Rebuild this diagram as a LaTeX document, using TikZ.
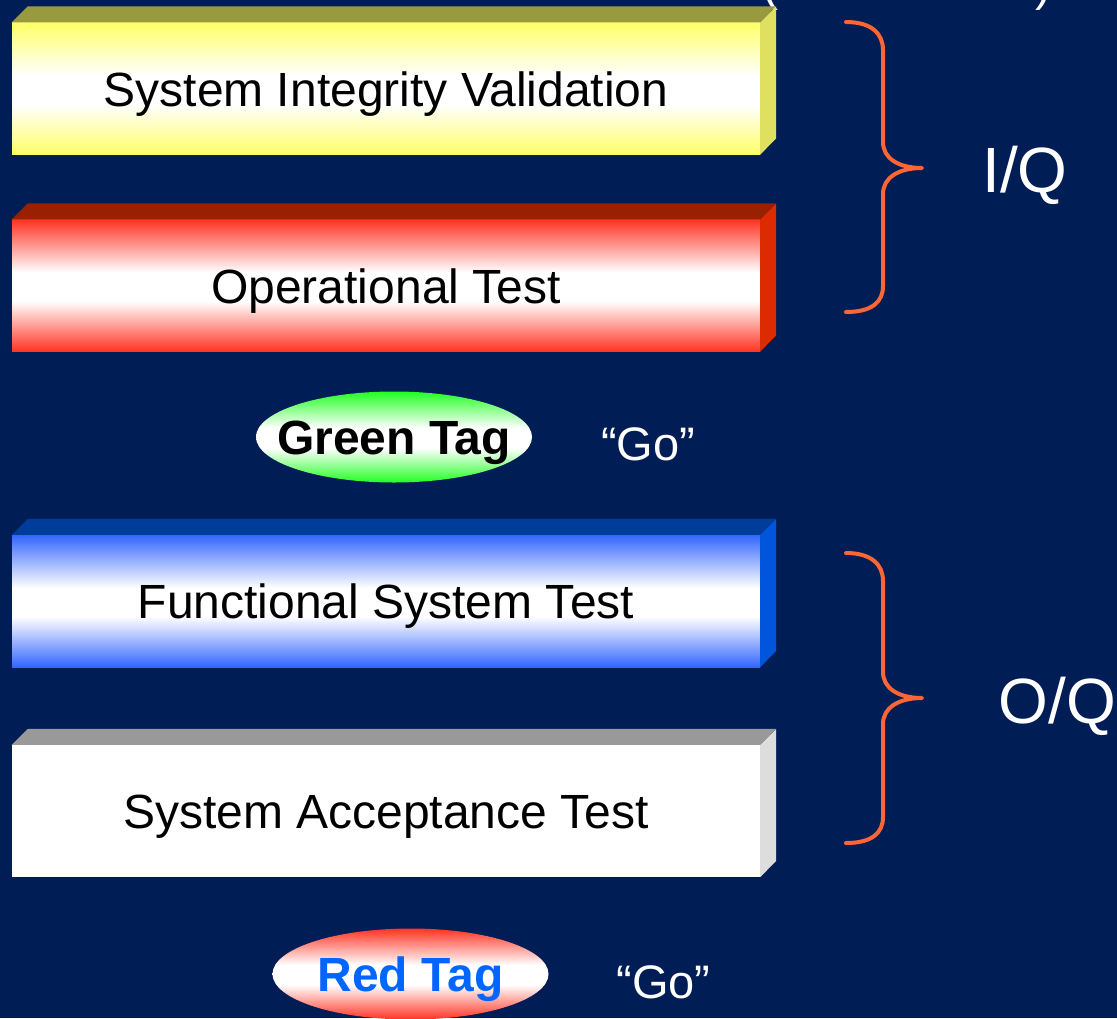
\documentclass[tikz,border=0pt]{standalone}
\usepackage{fontspec}
\setmainfont{Liberation Sans}
\usetikzlibrary{shapes.geometric}
\definecolor{bg}{HTML}{001D56}
\definecolor{yelF}{HTML}{FFFF66}
\definecolor{yelT}{HTML}{999940}
\definecolor{yelS}{HTML}{E0E060}
\definecolor{redF}{HTML}{FF3322}
\definecolor{redT}{HTML}{992000}
\definecolor{redS}{HTML}{DD2B00}
\definecolor{bluF}{HTML}{3366FF}
\definecolor{bluT}{HTML}{003C99}
\definecolor{bluS}{HTML}{0055DD}
\definecolor{gryT}{HTML}{999999}
\definecolor{gryS}{HTML}{DDDDDD}
\definecolor{grnF}{HTML}{22FF22}
\definecolor{braceC}{HTML}{FF6633}
\definecolor{tagBlue}{HTML}{0066FF}
\pgfdeclareverticalshading{yelsh}{100bp}{color(0bp)=(yelF); color(25bp)=(yelF); color(44bp)=(white); color(55bp)=(white); color(75bp)=(yelF); color(100bp)=(yelF)}
\pgfdeclareverticalshading{redsh}{100bp}{color(0bp)=(redF); color(25bp)=(redF); color(44bp)=(white); color(55bp)=(white); color(75bp)=(redF); color(100bp)=(redF)}
\pgfdeclareverticalshading{blush}{100bp}{color(0bp)=(bluF); color(25bp)=(bluF); color(44bp)=(white); color(55bp)=(white); color(75bp)=(bluF); color(100bp)=(bluF)}
\pgfdeclareverticalshading{grnsh}{100bp}{color(0bp)=(grnF); color(25bp)=(grnF); color(44bp)=(white); color(55bp)=(white); color(75bp)=(grnF); color(100bp)=(grnF)}
\begin{document}
\begin{tikzpicture}[x=1pt,y=-1pt,
  slab/.style={rectangle, minimum width=748pt, minimum height=132pt, inner sep=0pt,
    text height=35pt, text depth=0pt, font=\fontsize{48}{48}\selectfont, text=black},
  tag/.style={ellipse, minimum width=276pt, minimum height=91pt, inner sep=0pt,
    text height=35pt, text depth=0pt, font=\fontsize{48}{48}\selectfont\bfseries},
  lbl/.style={text=white, inner sep=0pt, anchor=base, font=\fontsize{47}{47}\selectfont},
  big/.style={text=white, inner sep=0pt, anchor=base, font=\fontsize{64}{64}\selectfont},
  bracestyle/.style={draw=braceC, line width=4pt, line cap=round, line join=round}
]
\useasboundingbox (0,0) rectangle (1117,1018);
\clip (0,0) rectangle (1117,1018);
\fill[bg] (0,0) rectangle (1117,1018);

% top cut-off fragments
\node[text=white, inner sep=0pt, anchor=base west, font=\fontsize{48}{48}\selectfont] (lpar) at (762,0) {(};
\node[text=white, inner sep=0pt, anchor=base west, font=\fontsize{48}{48}\selectfont] (rpar) at (1035,0) {)};

% slab 1
\node[slab, shading=yelsh] (siv) at (386,88.5) {System Integrity Validation};
\fill[yelT] (siv.north west) -- ++(16,-16) -- ++(748,0) -- (siv.north east) -- cycle;
\fill[yelS] (siv.north east) -- ++(16,-16) -- ++(0,132) -- (siv.south east) -- cycle;
% slab 2
\node[slab, shading=redsh] (opt) at (386,285.5) {Operational Test};
\fill[redT] (opt.north west) -- ++(16,-16) -- ++(748,0) -- (opt.north east) -- cycle;
\fill[redS] (opt.north east) -- ++(16,-16) -- ++(0,132) -- (opt.south east) -- cycle;
% slab 3
\node[slab, shading=blush] (fst) at (386,601) {Functional System Test};
\fill[bluT] (fst.north west) -- ++(16,-16) -- ++(748,0) -- (fst.north east) -- cycle;
\fill[bluS] (fst.north east) -- ++(16,-16) -- ++(0,132) -- (fst.south east) -- cycle;
% slab 4
\node[slab, fill=white] (sat) at (386,811) {System Acceptance Test};
\fill[gryT] (sat.north west) -- ++(16,-16) -- ++(748,0) -- (sat.north east) -- cycle;
\fill[gryS] (sat.north east) -- ++(16,-16) -- ++(0,132) -- (sat.south east) -- cycle;

% tags
\node[tag, shading=grnsh, text=black] (gtag) at (394,437) {\makebox[0pt]{Green Tag}};
\node[lbl] (go1) at (648,460) {“Go”};
\node[tag, shading=redsh, text=tagBlue] (rtag) at (410.5,974) {\makebox[0pt]{Red Tag}};
\node[lbl] (go2) at (663.5,998) {“Go”};

% braces
\draw[bracestyle] (846,22) .. controls (872,22) and (883,34) .. (883,50) -- (883,142)
  .. controls (883,158) and (898,168) .. (922,168)
  .. controls (898,168) and (883,178) .. (883,194) -- (883,286)
  .. controls (883,302) and (872,312) .. (846,312);
\draw[bracestyle] (846,553) .. controls (872,553) and (883,565) .. (883,581) -- (883,672)
  .. controls (883,688) and (898,698) .. (922,698)
  .. controls (898,698) and (883,708) .. (883,724) -- (883,817)
  .. controls (883,833) and (872,843) .. (846,843);

\node[big] (iq) at (1025,192) {I/Q};
\node[big] (oq) at (1057.5,723) {O/Q};
\end{tikzpicture}
\end{document}
